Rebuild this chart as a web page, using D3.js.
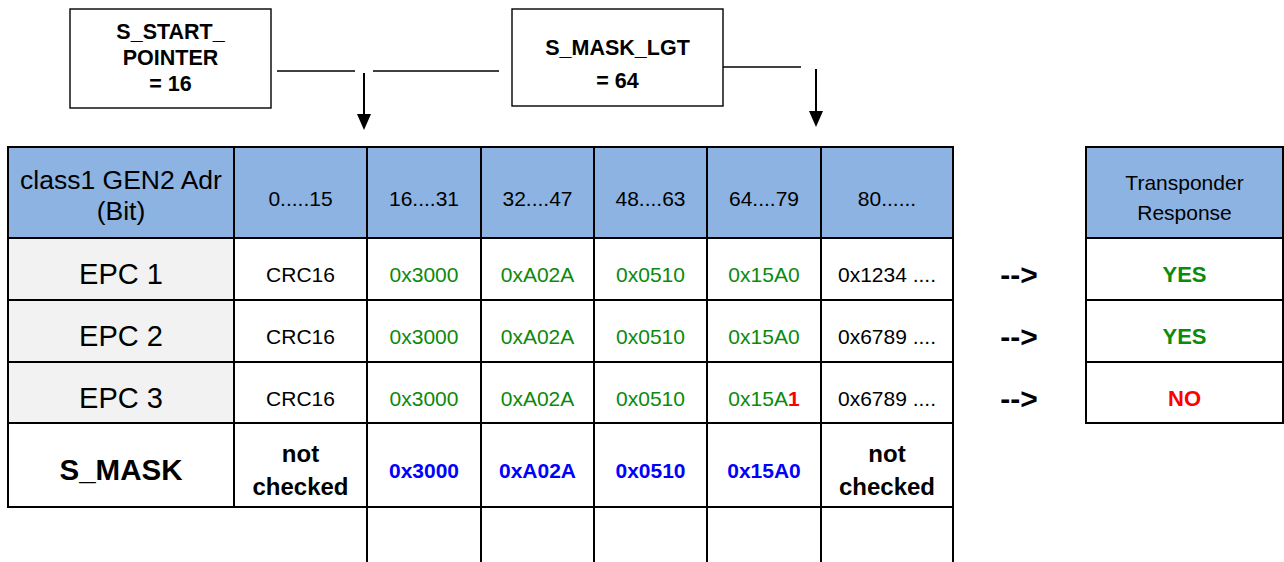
<!DOCTYPE html>
<html>
<head>
<meta charset="utf-8">
<title>S_MASK compare</title>
<script src="https://d3js.org/d3.v7.min.js"></script>
<style>
  body { margin: 0; background: #fff; }
  svg text { font-family: "Liberation Sans", Arial, sans-serif; }
</style>
</head>
<body>
<svg id="chart" width="1284" height="562"></svg>
<script>
// ---- data ----
var startPointer = 16;
var maskLength = 64;
var headerLabel = ["class1 GEN2 Adr", "(Bit)"];
var bitStarts = [0, 16, 32, 48, 64, 80];
var bitRanges = ["0.....15", "16....31", "32....47", "48....63", "64....79", "80......"];
var epcNames = ["EPC 1", "EPC 2", "EPC 3"];
var epcWords = [
  ["CRC16", "0x3000", "0xA02A", "0x0510", "0x15A0", "0x1234 ...."],
  ["CRC16", "0x3000", "0xA02A", "0x0510", "0x15A0", "0x6789 ...."],
  ["CRC16", "0x3000", "0xA02A", "0x0510", "0x15A1", "0x6789 ...."]
];
var maskName = "S_MASK";
var maskWords = ["not checked", "0x3000", "0xA02A", "0x0510", "0x15A0", "not checked"];
var responseLabel = ["Transponder", "Response"];
var responses = ["YES", "YES", "NO"];

// ---- layout ----
var colKeys = ["label"].concat(bitRanges);
var colEdges = [8, 234, 367, 481, 594, 707, 821, 953];
var rowKeys = ["head"].concat(epcNames, [maskName]);
var rowEdges = [147, 238, 300, 362, 423, 507];
var respX = [1086, 1283];

var GREEN = "#0b8a0b", BLUE = "#0000ff", RED = "#ff0000", HEAD = "#8db3e2", GREY = "#f2f2f2";

var x0 = d3.scaleOrdinal().domain(colKeys).range(colEdges.slice(0, -1));
var x1 = d3.scaleOrdinal().domain(colKeys).range(colEdges.slice(1));
var y0 = d3.scaleOrdinal().domain(rowKeys).range(rowEdges.slice(0, -1));
var y1 = d3.scaleOrdinal().domain(rowKeys).range(rowEdges.slice(1));
var cx = function(k) { return (x0(k) + x1(k)) / 2; };
var cy = function(k) { return (y0(k) + y1(k)) / 2; };

function inMask(i) {
  return bitStarts[i] >= startPointer && bitStarts[i] < startPointer + maskLength;
}

var svg = d3.select("#chart");

// ---- top boxes ----
function box(x, y, w, h, lines, baselines) {
  svg.append("rect").attr("x", x).attr("y", y).attr("width", w).attr("height", h)
    .attr("fill", "#fff").attr("stroke", "#000").attr("stroke-width", 1.4);
  lines.forEach(function(t, i) {
    svg.append("text").attr("x", x + w / 2).attr("y", baselines[i])
      .attr("text-anchor", "middle").attr("font-weight", "bold").attr("font-size", 21.5)
      .text(t);
  });
}
box(70, 9, 201, 99, ["S_START_", "POINTER", "= " + startPointer], [39, 65, 91]);
box(512, 9, 211, 97, ["S_MASK_LGT", "= " + maskLength], [55, 88]);

function hline(xa, xb, y) {
  svg.append("line").attr("x1", xa).attr("x2", xb).attr("y1", y).attr("y2", y)
    .attr("stroke", "#000").attr("stroke-width", 1.3);
}
hline(277, 355, 71);
hline(373, 499, 71);
hline(723, 801, 67);

function arrowDown(x, ya, yb) {
  svg.append("line").attr("x1", x).attr("x2", x).attr("y1", ya).attr("y2", yb - 15)
    .attr("stroke", "#000").attr("stroke-width", 2);
  svg.append("path").attr("d", "M" + (x - 7) + "," + (yb - 16) + "L" + (x + 7) + "," + (yb - 16) + "L" + x + "," + yb + "Z")
    .attr("fill", "#000");
}
// arrows point at the first masked column and the first one after the mask
var firstMasked = bitStarts.findIndex(function(b, i) { return inMask(i); });
var afterMasked = bitStarts.findIndex(function(b) { return b >= startPointer + maskLength; });
arrowDown(x0(bitRanges[firstMasked]) - 3, 73, 130);
arrowDown(x0(bitRanges[afterMasked]) - 5, 69, 127);

// ---- table fills ----
var g = svg.append("g");
g.selectAll("rect.head").data(colKeys).join("rect")
  .attr("x", function(d) { return x0(d); }).attr("y", y0("head"))
  .attr("width", function(d) { return x1(d) - x0(d); }).attr("height", y1("head") - y0("head"))
  .attr("fill", HEAD);
g.selectAll("rect.lab").data(epcNames).join("rect")
  .attr("x", x0("label")).attr("y", function(d) { return y0(d); })
  .attr("width", x1("label") - x0("label")).attr("height", function(d) { return y1(d) - y0(d); })
  .attr("fill", GREY);

// header texts
headerLabel.forEach(function(t, i) {
  g.append("text").attr("x", cx("label")).attr("y", [189, 220][i])
    .attr("text-anchor", "middle").attr("font-size", 26.5).text(t);
});
g.selectAll("text.range").data(bitRanges).join("text")
  .attr("x", function(d) { return cx(d); }).attr("y", cy("head") + 13)
  .attr("text-anchor", "middle").attr("font-size", 21).text(function(d) { return d; });

// EPC rows
epcNames.forEach(function(name, r) {
  g.append("text").attr("x", cx("label")).attr("y", cy(name) + 15)
    .attr("text-anchor", "middle").attr("font-size", 29).text(name);
  epcWords[r].forEach(function(w, i) {
    var t = g.append("text").attr("x", cx(bitRanges[i])).attr("y", cy(name) + 13)
      .attr("text-anchor", "middle").attr("font-size", 21);
    if (!inMask(i)) { t.attr("fill", "#000").text(w); return; }
    w.split("").forEach(function(ch, k) {
      var bad = ch !== maskWords[i][k];
      t.append("tspan").attr("fill", bad ? RED : GREEN)
        .attr("font-weight", bad ? "bold" : null).text(ch);
    });
  });
});

// S_MASK row
g.append("text").attr("x", cx("label")).attr("y", cy(maskName) + 15)
  .attr("text-anchor", "middle").attr("font-size", 29.5).attr("font-weight", "bold").text(maskName);
maskWords.forEach(function(w, i) {
  if (inMask(i)) {
    g.append("text").attr("x", cx(bitRanges[i])).attr("y", cy(maskName) + 13)
      .attr("text-anchor", "middle").attr("font-size", 21).attr("font-weight", "bold")
      .attr("fill", BLUE).text(w);
  } else {
    w.split(" ").forEach(function(part, k) {
      g.append("text").attr("x", cx(bitRanges[i])).attr("y", [462, 495][k])
        .attr("text-anchor", "middle").attr("font-size", 24).attr("font-weight", "bold").text(part);
    });
  }
});

// grid lines
var tableTop = rowEdges[0], tableBottom = rowEdges[rowEdges.length - 1];
colEdges.forEach(function(x, i) {
  var yEnd = i >= 2 ? 562 : tableBottom;
  g.append("line").attr("x1", x).attr("x2", x).attr("y1", tableTop - 1).attr("y2", yEnd)
    .attr("stroke", "#000").attr("stroke-width", 2);
});
rowEdges.forEach(function(y) {
  g.append("line").attr("x1", colEdges[0] - 1).attr("x2", colEdges[colEdges.length - 1] + 1)
    .attr("y1", y).attr("y2", y).attr("stroke", "#000").attr("stroke-width", 2);
});

// arrows "-->"
epcNames.forEach(function(name) {
  g.append("text").attr("x", 1019).attr("y", cy(name) + 16)
    .attr("text-anchor", "middle").attr("font-size", 30).attr("font-weight", "bold").text("-->");
});

// response table
var rg = svg.append("g");
rg.append("rect").attr("x", respX[0]).attr("y", y0("head"))
  .attr("width", respX[1] - respX[0]).attr("height", y1("head") - y0("head")).attr("fill", HEAD);
responseLabel.forEach(function(t, i) {
  rg.append("text").attr("x", (respX[0] + respX[1]) / 2).attr("y", [190, 220][i])
    .attr("text-anchor", "middle").attr("font-size", 21).text(t);
});
responses.forEach(function(r, i) {
  rg.append("text").attr("x", (respX[0] + respX[1]) / 2).attr("y", cy(epcNames[i]) + 13)
    .attr("text-anchor", "middle").attr("font-size", 22).attr("font-weight", "bold")
    .attr("fill", r === "YES" ? GREEN : RED).text(r);
});
respX.forEach(function(x) {
  rg.append("line").attr("x1", x).attr("x2", x).attr("y1", tableTop - 1).attr("y2", y1(epcNames[2]) + 1)
    .attr("stroke", "#000").attr("stroke-width", 2);
});
rowEdges.slice(0, 5).forEach(function(y) {
  rg.append("line").attr("x1", respX[0] - 1).attr("x2", respX[1] + 1).attr("y1", y).attr("y2", y)
    .attr("stroke", "#000").attr("stroke-width", 2);
});
</script>
</body>
</html>
